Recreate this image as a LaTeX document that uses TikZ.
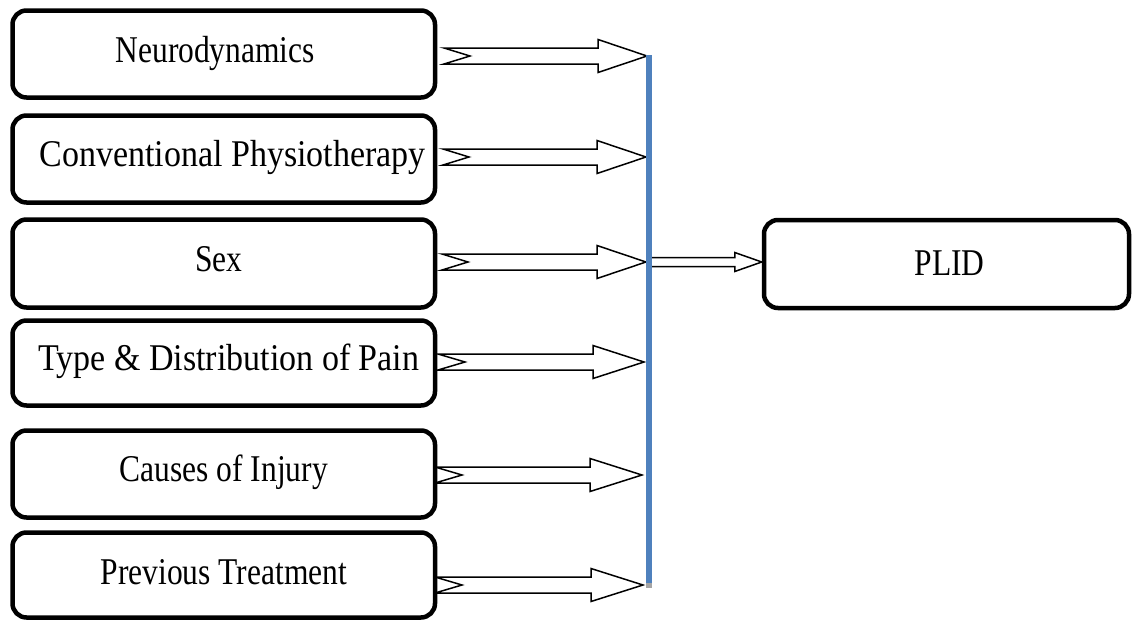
\documentclass[tikz,border=0pt]{standalone}
\usepackage{fontspec}
\usepackage{graphicx}
\setmainfont{Liberation Serif}
\usetikzlibrary{calc}
\definecolor{barblue}{HTML}{4F81BD}
\definecolor{capgray}{HTML}{A5A5A5}
\newcommand\tallt[1]{\scalebox{1}[1.2]{#1}}
\newcommand\tallw[1]{\scalebox{1}[1.11]{#1}}
\tikzset{
  box/.style={draw=black, line width=4.5pt, rounded corners=14pt, fill=white,
    minimum width=422.5pt, inner sep=0pt, text height=22pt, text depth=7pt,
    font=\fontsize{31.5}{36}\selectfont},
  bigtext/.style={font=\fontsize{34}{38}\selectfont},
  blockarrow/.style={draw=black, fill=white, line width=1.5pt, line join=miter},
}
% #1 tail, #2 tip, #3 shaft half width, #4 head half width, #5 head length, #6 notch depth
\newcommand\notchedarrow[6]{%
  \draw[blockarrow] let \p1=(#1), \p2=(#2) in
    (\x1,{\y1+#3pt}) -- ({\x2-#5pt},{\y1+#3pt}) -- ({\x2-#5pt},{\y1+#4pt})
    -- (\x2,\y1) -- ({\x2-#5pt},{\y1-#4pt}) -- ({\x2-#5pt},{\y1-#3pt})
    -- (\x1,{\y1-#3pt}) -- ({\x1+#6pt},\y1) -- cycle;}
\begin{document}
\begin{tikzpicture}[x=1pt,y=-1pt]
\useasboundingbox (0,0) rectangle (1133,621);
% arrow end points
\coordinate (t1) at (444,56);  \coordinate (h1) at (647,56);
\coordinate (t2) at (443,157); \coordinate (h2) at (646,157);
\coordinate (t3) at (442,262); \coordinate (h3) at (646,262);
\coordinate (t4) at (438,362); \coordinate (h4) at (644,362);
\coordinate (t5) at (435,475); \coordinate (h5) at (642,475);
\coordinate (t6) at (435,585); \coordinate (h6) at (643,585);
\coordinate (t7) at (649,262);
% arrows (under the boxes)
\notchedarrow{t1}{h1}{8}{16.5}{49}{26}
\notchedarrow{t2}{h2}{8}{16.5}{49}{26}
\notchedarrow{t3}{h3}{8}{16.5}{49}{26}
\notchedarrow{t4}{h4}{8}{16.5}{51}{27}
\notchedarrow{t5}{h5}{8}{16.5}{52}{27}
\notchedarrow{t6}{h6}{8}{16.5}{52}{27}
% left boxes
\node[box, minimum height=87pt, text depth=5pt] (n1) at (223.75,54) {\tallt{Neurodynamics}\hspace*{17pt}};
\node[box, bigtext, minimum height=87pt] (n2) at (223.75,159) {\hspace*{18pt}\tallw{Conventional Physiotherapy}};
\node[box, minimum height=88pt] (n3) at (223.75,263.5) {\tallt{Sex}\hspace*{10pt}};
\node[box, bigtext, minimum height=85pt] (n4) at (223.75,363) {\hspace*{10pt}\tallw{Type \& Distribution of Pain}};
\node[box, minimum height=87pt] (n5) at (223.75,474) {\tallt{Causes of Injury}};
\node[box, minimum height=85pt, text depth=4pt] (n6) at (223.75,575) {\tallt{Previous Treatment}};
% right box
\node[box, minimum width=365pt, minimum height=88pt, text depth=-4pt] (plid) at (946.5,264) {\hspace*{6pt}\tallt{PLID}};
% arrow to PLID
\notchedarrow{t7}{plid.west}{4.5}{9.5}{27}{0}
% vertical bar
\node[fill=barblue, inner sep=0pt, minimum width=6.5pt, minimum height=528pt] (bar) at (649,319) {};
\node[fill=capgray, inner sep=0pt, minimum width=6.5pt, minimum height=5pt, anchor=north] (cap) at (bar.south) {};
\end{tikzpicture}
\end{document}
